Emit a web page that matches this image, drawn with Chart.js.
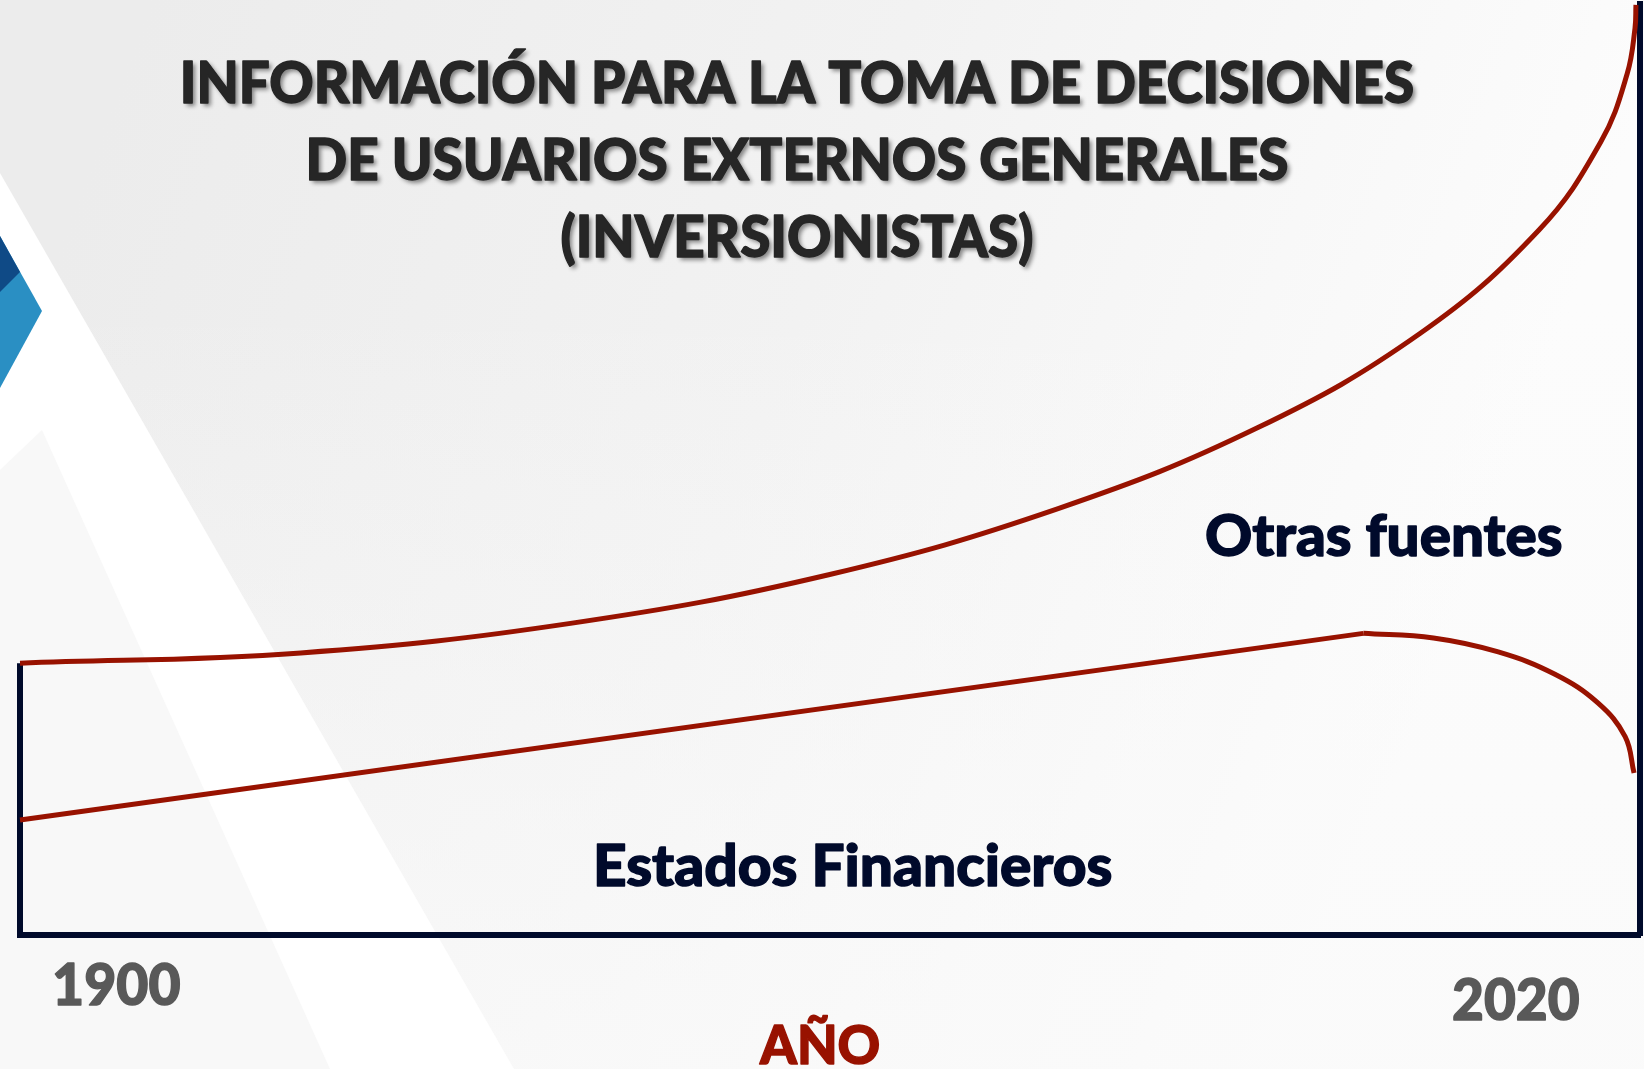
<!DOCTYPE html>
<html><head><meta charset="utf-8">
<script src="https://cdn.jsdelivr.net/npm/chart.js@4.4.1/dist/chart.umd.min.js"></script>
<style>html,body{margin:0;padding:0;background:#f3f3f3;overflow:hidden}canvas{display:block}</style>
</head><body>
<canvas id="c" width="1644" height="1069" style="width:1644px;height:1069px"></canvas>
<script>
// ---- data ----
const titleLines = ['INFORMACIÓN PARA LA TOMA DE DECISIONES', 'DE USUARIOS EXTERNOS GENERALES', '(INVERSIONISTAS)'];
const seriesNames = ['Otras fuentes', 'Estados Financieros'];
const yearTicks = ['1900', '2020'];
const axisTitle = 'AÑO';
const xRange = [1900, 2020];
const yRange = [0, 100];

const otrasYears  = [1900, 1920.8, 1940.9, 1959.9, 1976.9, 1991.7, 2003.7, 2012.5, 2017.1, 2019.05, 2019.63, 2019.7];
const otrasValues = [29.2, 30.3, 33.5, 38.7, 45.8, 54.5, 64.6, 75.7, 85.2, 92.5, 97.4, 99.9];

const estadosYears  = [1900, 1999.5, 2004.7, 2009.5, 2013.7, 2016.9, 2018.9, 2019.56];
const estadosValues = [12.35, 32.4, 31.9, 30.4, 28.0, 24.9, 21.3, 17.4];
const estadosPeakIndex = 1;

// ---- styles ----
const RED = '#981200';
const NAVY = '#000a2b';
const FONT = 'Lato';
const WEIGHT = '900';

const pts = (xs, ys) => xs.map((x, i) => ({x, y: ys[i]}));

const datasets = [
  { label: seriesNames[0], data: pts(otrasYears, otrasValues), borderColor: RED, borderWidth: 5,
    tension: 0.4, showLine: true, pointRadius: 0, clip: false },
  { label: seriesNames[1], data: pts(estadosYears.slice(0, estadosPeakIndex + 1), estadosValues.slice(0, estadosPeakIndex + 1)),
    borderColor: RED, borderWidth: 5, tension: 0, showLine: true, pointRadius: 0, clip: false },
  { label: seriesNames[1] + ' (curva)', data: pts(estadosYears.slice(estadosPeakIndex), estadosValues.slice(estadosPeakIndex)),
    borderColor: RED, borderWidth: 5, tension: 0.4, showLine: true, pointRadius: 0, clip: false },
  { label: 'eje', data: [{x: xRange[0], y: yRange[0]}, {x: xRange[0], y: otrasValues[0]}],
    borderColor: NAVY, borderWidth: 6, showLine: true, pointRadius: 0, clip: false, borderCapStyle: 'butt' }
];

// ---- text helpers ----
function capRatio(ctx) {
  ctx.font = `${WEIGHT} 100px ${FONT}`;
  return ctx.measureText('H').actualBoundingBoxAscent / 100;
}
function fitText(ctx, text, left, right, base, cap, color) {
  ctx.save();
  const size = cap / capRatio(ctx);
  ctx.font = `${WEIGHT} ${size}px ${FONT}`;
  ctx.textAlign = 'left'; ctx.textBaseline = 'alphabetic';
  const m = ctx.measureText(text);
  const inkW = m.actualBoundingBoxLeft + m.actualBoundingBoxRight;
  const sx = (right - left) / inkW;
  ctx.translate(left, base);
  ctx.scale(sx, 1);
  ctx.fillStyle = color; ctx.strokeStyle = color;
  ctx.lineWidth = 1.4; ctx.lineJoin = 'round';
  ctx.fillText(text, m.actualBoundingBoxLeft, 0);
  ctx.strokeText(text, m.actualBoundingBoxLeft, 0);
  ctx.restore();
}

const bgPlugin = {
  id: 'bg',
  beforeDraw(chart) {
    const ctx = chart.ctx, W = chart.width, H = chart.height;
    ctx.save();
    const g = ctx.createLinearGradient(150, 0, 1500, 500);
    g.addColorStop(0, '#ececec'); g.addColorStop(0.5, '#f2f2f2'); g.addColorStop(1, '#fcfcfc');
    ctx.fillStyle = g; ctx.fillRect(0, 0, W, H);
    const g2 = ctx.createLinearGradient(0, 300, 0, H);
    g2.addColorStop(0, 'rgba(250,250,250,0)'); g2.addColorStop(1, 'rgba(250,250,250,0.8)');
    ctx.fillStyle = g2; ctx.fillRect(0, 0, W, H);
    ctx.fillStyle = '#ffffff';
    ctx.beginPath(); ctx.moveTo(0, 173); ctx.lineTo(514, H); ctx.lineTo(0, H); ctx.closePath(); ctx.fill();
    ctx.fillStyle = '#f8f8f8';
    ctx.beginPath(); ctx.moveTo(0, 470); ctx.lineTo(42, 430); ctx.lineTo(330, H); ctx.lineTo(0, H); ctx.closePath(); ctx.fill();
    ctx.fillStyle = '#2a8fc3';
    ctx.beginPath(); ctx.moveTo(0, 236); ctx.lineTo(42, 311); ctx.lineTo(0, 388); ctx.closePath(); ctx.fill();
    ctx.fillStyle = '#0f4a86';
    ctx.beginPath(); ctx.moveTo(0, 236); ctx.lineTo(20, 272); ctx.lineTo(0, 292); ctx.closePath(); ctx.fill();
    ctx.restore();
  }
};

const textPlugin = {
  id: 'texts',
  afterDraw(chart) {
    const ctx = chart.ctx;
    ctx.save();
    ctx.shadowColor = 'rgba(0,0,0,0.45)';
    ctx.shadowOffsetX = 3; ctx.shadowOffsetY = 3; ctx.shadowBlur = 4;
    const cap = 42;
    const size = cap / capRatio(ctx);
    ctx.font = `${WEIGHT} ${size}px ${FONT}`;
    const m0 = ctx.measureText(titleLines[0]);
    const sx = 1229 / (m0.actualBoundingBoxLeft + m0.actualBoundingBoxRight);
    const bases = [103, 180, 257];
    titleLines.forEach((t, i) => {
      ctx.save();
      ctx.font = `${WEIGHT} ${size}px ${FONT}`;
      ctx.textAlign = 'center';
      ctx.translate(797, bases[i]);
      ctx.scale(sx, 1);
      ctx.fillStyle = '#262626'; ctx.strokeStyle = '#262626';
      ctx.lineWidth = 1.4; ctx.lineJoin = 'round';
      ctx.fillText(t, 0, 0);
      ctx.shadowColor = 'rgba(0,0,0,0)';
      ctx.strokeText(t, 0, 0);
      ctx.restore();
    });
    ctx.restore();
    fitText(ctx, seriesNames[0], 1206, 1561, 556, 42, NAVY);
    fitText(ctx, seriesNames[1], 597, 1111, 886, 42, NAVY);
    fitText(ctx, yearTicks[0], 55, 180, 1005, 41, '#595959');
    fitText(ctx, yearTicks[1], 1453, 1579, 1020, 41, '#595959');
    fitText(ctx, axisTitle, 759, 879, 1064, 39, '#981200');
  }
};

new Chart(document.getElementById('c'), {
  type: 'scatter',
  data: { datasets },
  options: {
    responsive: false, animation: false, devicePixelRatio: 1,
    layout: { autoPadding: false, padding: { left: 20, right: 4, top: 4, bottom: 134 } },
    plugins: { legend: { display: false }, tooltip: { enabled: false } },
    scales: {
      x: { type: 'linear', min: xRange[0], max: xRange[1],
           grid: { display: false, drawTicks: false }, ticks: { display: false },
           border: { display: true, color: NAVY, width: 6 },
           afterFit: (s) => { s.height = 0; } },
      y: { type: 'linear', position: 'right', min: yRange[0], max: yRange[1],
           grid: { display: false, drawTicks: false }, ticks: { display: false },
           border: { display: true, color: NAVY, width: 6 },
           afterFit: (s) => { s.width = 0; } }
    }
  },
  plugins: [bgPlugin, textPlugin]
});
</script>
</body></html>
